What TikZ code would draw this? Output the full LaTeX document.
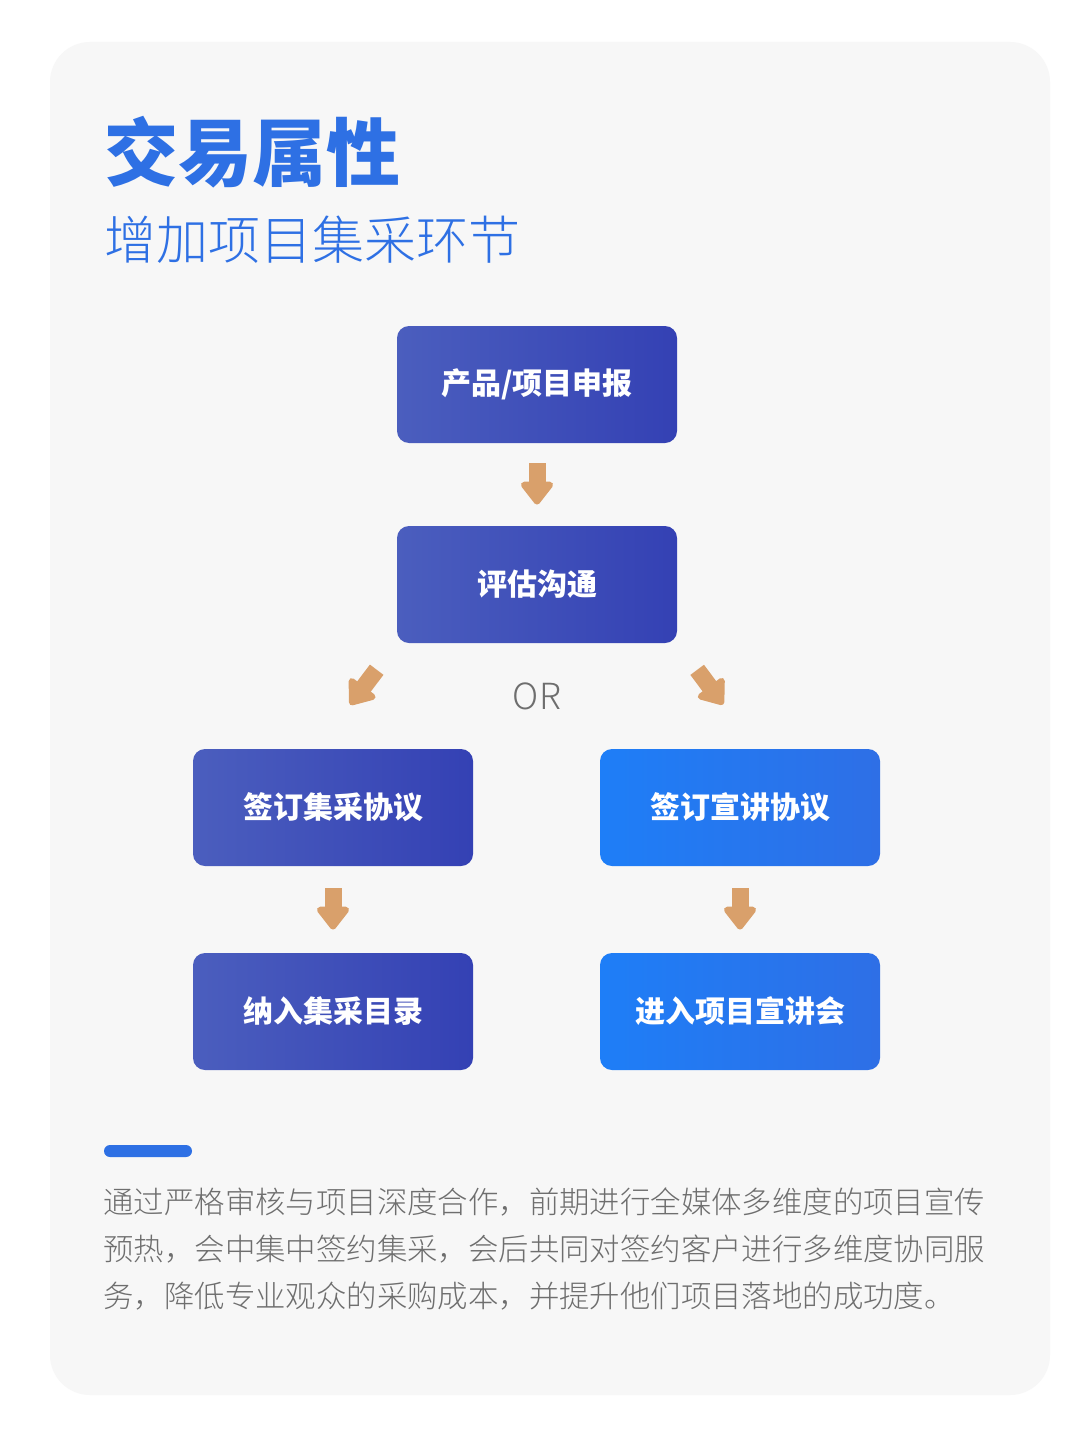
\documentclass[tikz,border=0pt]{standalone}
\usepackage{fontspec}
\setmainfont{Noto Sans CJK SC}
\newfontfamily\lightfont{Noto Sans CJK SC Light}
\usetikzlibrary{arrows.meta}

\definecolor{cardgray}{HTML}{F7F7F7}
\definecolor{titleblue}{HTML}{2E70E4}
\definecolor{darkL}{HTML}{4B5EBE}
\definecolor{darkR}{HTML}{3441B4}
\definecolor{blueL}{HTML}{1E7EF7}
\definecolor{blueR}{HTML}{2E6FE6}
\definecolor{arrowtan}{HTML}{D9A06B}
\definecolor{textgray}{HTML}{6E6E6E}

\tikzset{
  darkbox/.style={left color=darkL, right color=darkR},
  bluebox/.style={left color=blueL, right color=blueR},
}

\begin{document}
\begin{tikzpicture}[x=0.5pt,y=-0.5pt]

        \useasboundingbox[fill=white] (0,0) rectangle (1080,1439);
        \fill[cardgray, rounded corners=20pt] (50,42) rectangle (1050,1395);

        \node[anchor=west, inner sep=0, text=titleblue,
              font=\bfseries\fontsize{37}{37}\selectfont] (title) at (104,152) {交易属性};
        \node[anchor=west, inner sep=0, text=titleblue,
              font=\lightfont\fontsize{26}{26}\selectfont] (subtitle) at (104,240) {增加项目集采环节};

        \begin{scope}[every node/.style={rounded corners=6pt, minimum width=140pt,
            minimum height=58.5pt, inner sep=0, text=white,
            font=\bfseries\fontsize{15}{15}\selectfont}]
          \node[darkbox] (1) at (537,384.5)  {产品/项目申报};
          \node[darkbox] (2) at (537,584.5)  {评估沟通};
          \node[darkbox] (3) at (333,807.5)  {签订集采协议};
          \node[bluebox] (4) at (740,807.5)  {签订宣讲协议};
          \node[darkbox] (5) at (333,1011.5) {纳入集采目录};
          \node[bluebox] (6) at (740,1011.5) {进入项目宣讲会};
        \end{scope}

        \node[text=textgray, inner sep=0,
              font=\lightfont\fontsize{18}{18}\selectfont] (or) at (537,696) {OR};

        \begin{scope}[every edge/.style={draw=arrowtan, line width=8.5pt,
            -{Triangle[length=12.5pt, width=18.5pt, round]}}]
          \path (1) edge[shorten <=10pt, shorten >=10.5pt] (2);
          \path (2.south west) edge[shorten <=16.5pt, shorten >=27.5pt] ([xshift=-8pt]3.north);
          \path (2.south east) edge[shorten <=16.5pt, shorten >=27.5pt] ([xshift=8pt]4.north);
          \path (3) edge[shorten <=11pt, shorten >=11.5pt] (5);
          \path (4) edge[shorten <=11pt, shorten >=11.5pt] (6);
        \end{scope}

        \fill[titleblue, rounded corners=3pt] (104,1145) rectangle (192,1157);

        \node[anchor=west, inner sep=0, align=left, text=textgray,
              font=\lightfont\fontsize{15.2}{23.3}\selectfont] (body) at (103,1249)
          {通过严格审核与项目深度合作，前期进行全媒体多维度的项目宣传\\
           预热，会中集中签约集采，会后共同对签约客户进行多维度协同服\\
           务，降低专业观众的采购成本，并提升他们项目落地的成功度。};

      \end{tikzpicture}
\end{document}
